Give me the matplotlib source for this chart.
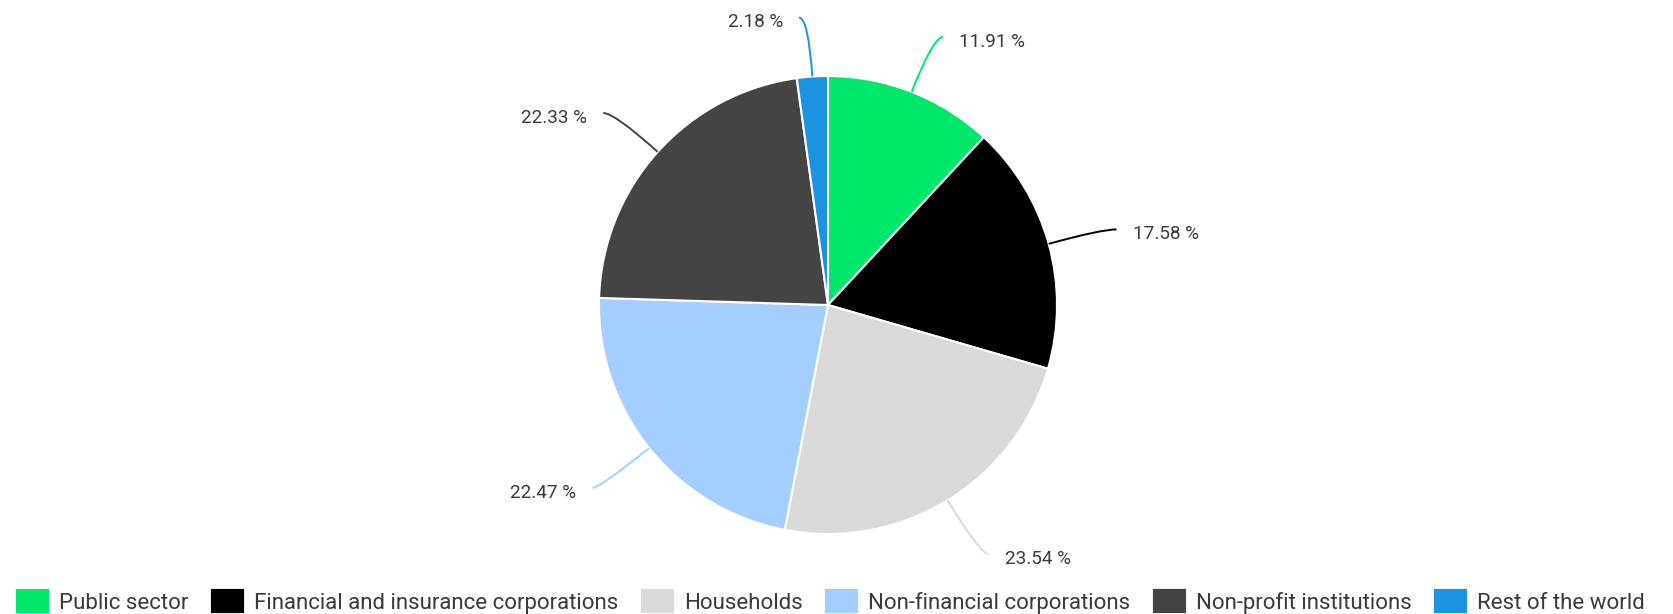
import numpy as np
import matplotlib.pyplot as plt
from matplotlib.patches import Patch, PathPatch
from matplotlib.path import Path

plt.rcParams['font.family'] = ['Roboto', 'DejaVu Sans']

# data
labels = ["Public sector", "Financial and insurance corporations", "Households",
          "Non-financial corporations", "Non-profit institutions", "Rest of the world"]
shares = [11.91, 17.58, 23.54, 22.47, 22.33, 2.18]
colors = ["#00e86b", "#000000", "#d9d9d9", "#a3ceff", "#444444", "#1a94e0"]

W, H = 1673, 614
cx, cy, R = 828, 309, 229  # pie centre / radius in pixels (from bottom-left)
text_col = "#3a3a3a"

fig = plt.figure(figsize=(W / 100, H / 100), dpi=100)
ax = fig.add_axes([0, 0, 1, 1])
wedges, _ = ax.pie(shares, colors=colors, startangle=90, counterclock=False,
                   wedgeprops=dict(edgecolor="white", linewidth=1.5))
ax.set_xlim(-cx / R, (W - cx) / R)
ax.set_ylim(-cy / R, (H - cy) / R)
ax.axis("off")

# connectors + labels
dist = 1.266
for w, val, c in zip(wedges, shares, colors):
    th = np.deg2rad((w.theta1 + w.theta2) / 2)
    cs, sn = np.cos(th), np.sin(th)
    side = 1 if cs >= 0 else -1
    ly = dist * sn - 0.008
    ex = dist * cs + side * 0.04
    t = ly / sn
    ctrl = (t * cs, ly)
    path = Path([(cs, sn), ctrl, (ex, ly)], [Path.MOVETO, Path.CURVE3, Path.CURVE3])
    ax.add_patch(PathPatch(path, fill=False, edgecolor=c, lw=1.4))
    ax.text(ex + side * 0.07, ly - 0.02, f"{val:.2f} %", ha="left" if side > 0 else "right",
            va="center", fontsize=13.6, color=text_col)

handles = [Patch(facecolor=c, edgecolor=c, linewidth=3, joinstyle="round") for c in colors]
fig.legend(handles, labels, loc="lower left", bbox_to_anchor=(18 / W, 0), ncol=6,
           frameon=False, fontsize=16, handlelength=1.3, handleheight=1.0,
           handletextpad=0.55, columnspacing=1.1, borderpad=0, borderaxespad=0,
           labelcolor=text_col)

fig.savefig("out.png", dpi=100)
